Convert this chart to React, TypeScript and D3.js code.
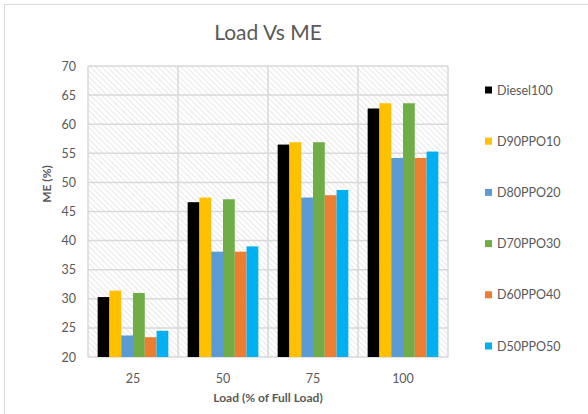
import React from "react";
import * as d3 from "d3";

const loads = ["25", "50", "75", "100"];
const seriesNames = ["Diesel100", "D90PPO10", "D80PPO20", "D70PPO30", "D60PPO40", "D50PPO50"];
const seriesColors = ["#000000", "#FFC000", "#5B9BD5", "#70AD47", "#ED7D31", "#00B0F0"];
const diesel100 = [30.3, 46.6, 56.5, 62.7];
const d90ppo10 = [31.4, 47.4, 56.9, 63.6];
const d80ppo20 = [23.7, 38.1, 47.4, 54.2];
const d70ppo30 = [31.0, 47.1, 56.9, 63.6];
const d60ppo40 = [23.4, 38.1, 47.8, 54.2];
const d50ppo50 = [24.5, 39.0, 48.7, 55.3];
const yTicks = [20, 25, 30, 35, 40, 45, 50, 55, 60, 65, 70];

const seriesValues = [diesel100, d90ppo10, d80ppo20, d70ppo30, d60ppo40, d50ppo50];

const W = 588;
const H = 414;
const plot = { left: 88, right: 448, top: 66, bottom: 357 };
const font = "Lato, 'Open Sans', sans-serif";
const textColor = "#595959";
const gridColor = "#d9d9d9";

export default function App() {
  const x0 = d3.scaleBand<string>().domain(loads).range([plot.left, plot.right]).paddingInner(0).paddingOuter(0);
  const x1 = d3
    .scaleBand<string>()
    .domain(seriesNames)
    .range([0, x0.bandwidth()])
    .paddingInner(0)
    .paddingOuter(0.82);
  const y = d3.scaleLinear().domain([20, 70]).range([plot.bottom, plot.top]);

  return (
    <svg
      width={W}
      height={H}
      style={{ position: "absolute", left: 0, top: 0, display: "block" }}
      fontFamily={font}
    >
      <defs>
        <pattern id="hatch" width="4" height="4" patternUnits="userSpaceOnUse" patternTransform="rotate(-45)">
          <line x1="0" y1="0" x2="0" y2="4" stroke="#d4d4d4" strokeWidth="1.1" />
        </pattern>
      </defs>
      <rect x={0} y={0} width={W} height={H} fill="#ffffff" />
      <rect x={4.5} y={4.5} width={W + 10} height={H + 10} fill="none" stroke="#d9d9d9" strokeWidth={1} />

      <text x={268} y={40} textAnchor="middle" fontSize={21} fill={textColor}>
        Load Vs ME
      </text>

      {/* plot background */}
      <rect
        x={plot.left}
        y={plot.top}
        width={plot.right - plot.left}
        height={plot.bottom - plot.top}
        fill="url(#hatch)"
      />

      {/* gridlines */}
      {yTicks.map((t) => (
        <line key={"h" + t} x1={plot.left} x2={plot.right} y1={y(t)} y2={y(t)} stroke={gridColor} strokeWidth={1.5} />
      ))}
      {loads.map((l) => (
        <line
          key={"v" + l}
          x1={x0(l)!}
          x2={x0(l)!}
          y1={plot.top}
          y2={plot.bottom}
          stroke={gridColor}
          strokeWidth={1.5}
        />
      ))}
      <line x1={plot.right} x2={plot.right} y1={plot.top} y2={plot.bottom} stroke={gridColor} strokeWidth={1.5} />

      {/* bars */}
      {loads.map((l, i) => (
        <g key={"g" + l} transform={`translate(${x0(l)},0)`}>
          {seriesNames.map((s, j) => {
            const v = seriesValues[j][i];
            return (
              <rect
                key={s}
                x={x1(s)!}
                y={y(v)}
                width={x1.bandwidth()}
                height={y(20) - y(v)}
                fill={seriesColors[j]}
              />
            );
          })}
        </g>
      ))}

      {/* y tick labels */}
      {yTicks.map((t) => (
        <text key={"yl" + t} x={76} y={y(t) + 4.5} textAnchor="end" fontSize={12.5} fill={textColor}>
          {t}
        </text>
      ))}
      {/* x tick labels */}
      {loads.map((l) => (
        <text
          key={"xl" + l}
          x={x0(l)! + x0.bandwidth() / 2}
          y={383}
          textAnchor="middle"
          fontSize={12.5}
          fill={textColor}
        >
          {l}
        </text>
      ))}

      <text x={268} y={402} textAnchor="middle" fontSize={12} fontWeight="bold" fill={textColor}>
        Load  (% of Full Load)
      </text>
      <text
        transform={`translate(51,184) rotate(-90)`}
        textAnchor="middle"
        fontSize={12}
        fontWeight="bold"
        fill={textColor}
      >
        ME (%)
      </text>

      {/* legend */}
      {seriesNames.map((s, j) => {
        const cy = 90 + j * 51.2;
        return (
          <g key={"lg" + s}>
            <rect x={485} y={cy - 3.5} width={7} height={7} fill={seriesColors[j]} />
            <text x={497} y={cy + 4.5} fontSize={12.5} fill={textColor}>
              {s}
            </text>
          </g>
        );
      })}
    </svg>
  );
}
